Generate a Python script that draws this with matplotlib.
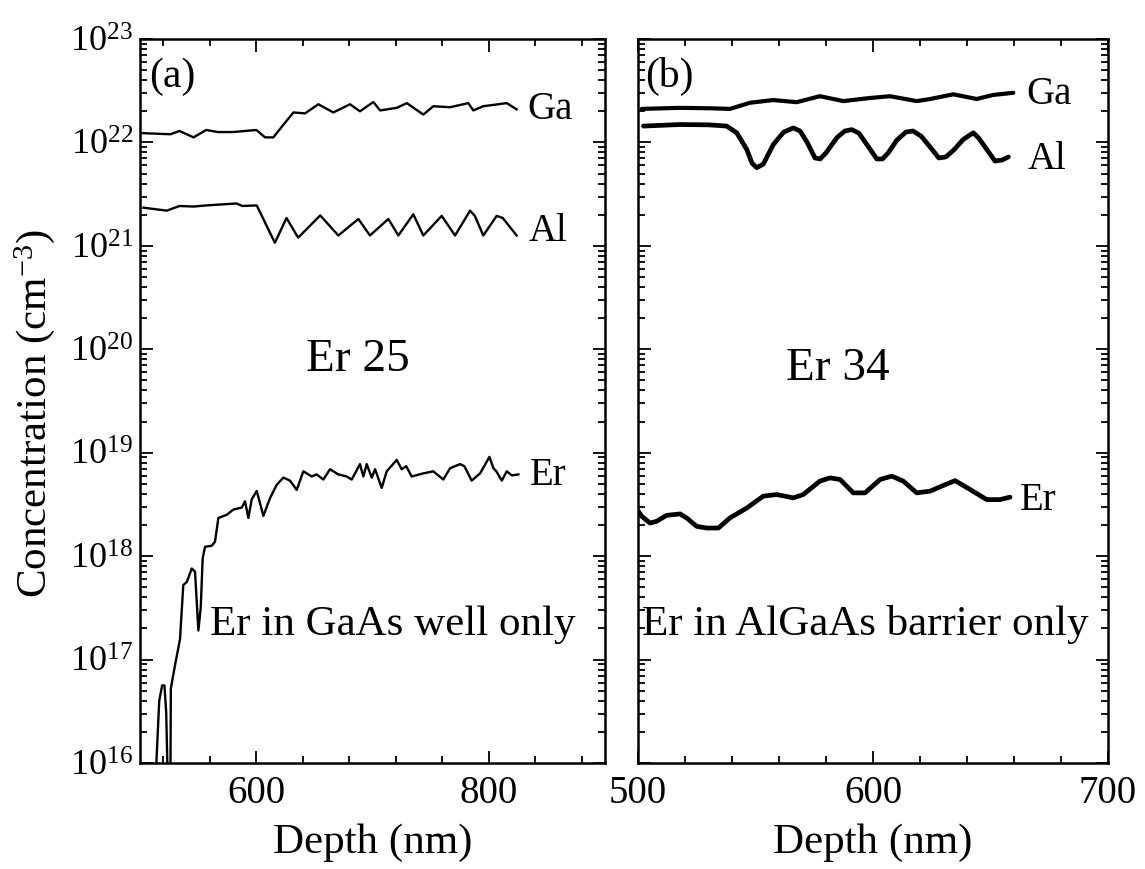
import matplotlib
matplotlib.use("Agg")
import matplotlib.pyplot as plt
from matplotlib.ticker import AutoMinorLocator, FixedLocator, NullFormatter

plt.rcParams['font.family'] = ['Liberation Serif', 'DejaVu Serif']
plt.rcParams['mathtext.fontset'] = 'custom'
plt.rcParams['mathtext.rm'] = 'Liberation Serif'
plt.rcParams['mathtext.it'] = 'Liberation Serif:italic'
plt.rcParams['mathtext.bf'] = 'Liberation Serif:bold'

# ---------------- Panel (a): Er 25 ----------------
a_ga_depth = [502, 526, 534, 546, 557, 567, 580, 600, 607.5, 614.7, 624.7, 632, 642,
              653.4, 666.3, 680.6, 689.2, 700.7, 706.5, 720.8, 729.5, 743.7, 752.3,
              766.7, 782.4, 786.7, 795.3, 815.4, 824]
a_ga_conc = [1.23e22, 1.20e22, 1.29e22, 1.12e22, 1.32e22, 1.26e22, 1.26e22, 1.32e22,
             1.12e22, 1.12e22, 1.55e22, 1.95e22, 1.91e22, 2.34e22, 1.95e22, 2.34e22,
             2.00e22, 2.46e22, 2.04e22, 2.16e22, 2.40e22, 1.86e22, 2.24e22, 2.19e22,
             2.40e22, 2.04e22, 2.24e22, 2.40e22, 2.09e22]

a_al_depth = [503, 523, 534, 546, 557, 583, 588, 600.4, 616, 626, 636, 655, 670.6,
              687.8, 697.8, 713.6, 722.2, 735.1, 743.7, 759.5, 771, 783.9, 788, 795.3,
              806.8, 812, 824]
a_al_conc = [2.34e21, 2.19e21, 2.43e21, 2.40e21, 2.46e21, 2.57e21, 2.43e21, 2.46e21,
             1.07e21, 1.86e21, 1.20e21, 1.97e21, 1.26e21, 1.82e21, 1.26e21, 1.82e21,
             1.26e21, 2.02e21, 1.26e21, 1.95e21, 1.26e21, 2.19e21, 1.95e21, 1.26e21,
             1.95e21, 1.86e21, 1.26e21]

a_er_depth = [512, 516.5, 519, 521, 522.5, 524.5, 526, 526.5, 530, 534.4, 537.2, 540.2,
              544.5, 547.3, 550.2, 552.2, 553.9, 555.9, 561.7, 564.5, 567.4, 574.6,
              580.3, 587.5, 590.3, 593.2, 596.1, 600.4, 606.1, 611.8, 617.6, 623.3, 629,
              634.8, 640.5, 647.7, 652, 657.7, 663.4, 670.6, 677.8, 682.1, 689.2, 692.1,
              695, 699.3, 702.2, 707.9, 712.2, 720.8, 725.1, 729, 733.7, 743.7, 752.3,
              760.9, 766.7, 775.3, 779, 785.3, 792.5, 800.6, 804, 806.5, 811.2, 815.5,
              819.8, 825.5]
a_er_conc = [3.16e15, 3.98e16, 5.62e16, 5.62e16, 3.09e16, 3.16e15, 3.16e15, 5.25e16,
             8.71e16, 1.58e17, 5.25e17, 5.62e17, 7.59e17, 7.08e17, 1.91e17, 3.16e17,
             9.55e17, 1.23e18, 1.26e18, 1.38e18, 2.34e18, 2.51e18, 2.82e18, 2.95e18,
             3.39e18, 2.34e18, 3.55e18, 4.27e18, 2.45e18, 3.63e18, 4.90e18, 5.75e18,
             5.37e18, 4.37e18, 6.61e18, 5.89e18, 6.17e18, 5.50e18, 6.92e18, 6.17e18,
             5.89e18, 5.50e18, 7.76e18, 5.89e18, 7.76e18, 5.75e18, 6.92e18, 4.57e18,
             6.61e18, 8.51e18, 6.92e18, 7.41e18, 5.89e18, 6.31e18, 6.61e18, 5.50e18,
             7.08e18, 7.76e18, 7.41e18, 5.37e18, 6.31e18, 9.12e18, 7.08e18, 6.61e18,
             5.37e18, 6.61e18, 6.03e18, 6.17e18]

# ---------------- Panel (b): Er 34 ----------------
b_ga_depth = [501.6, 517.9, 530.6, 539.1, 547.7, 557.6, 567.5, 577.4, 587.4, 598.7,
              607.2, 618.6, 624.3, 634.2, 644.1, 651.2, 659.7]
b_ga_conc = [2.11e22, 2.16e22, 2.14e22, 2.11e22, 2.42e22, 2.57e22, 2.45e22, 2.80e22,
             2.51e22, 2.69e22, 2.80e22, 2.51e22, 2.63e22, 2.92e22, 2.63e22, 2.88e22,
             3.02e22]

b_al_depth = [502.3, 517.9, 530, 537.7, 542, 546.3, 548.5, 550.5, 553.3, 557.6, 562,
              566.1, 569, 572, 575.3, 577.5, 580, 584.6, 588, 591, 594, 598, 601.6, 604,
              606.5, 610.1, 614, 617, 620.5, 624.5, 628, 631, 634.5, 638.4, 642.7, 645,
              648.5, 651.9, 655, 657.6]
b_al_conc = [1.44e22, 1.49e22, 1.48e22, 1.44e22, 1.24e22, 8.55e21, 6.31e21, 5.70e21,
             6.17e21, 9.55e21, 1.26e22, 1.38e22, 1.29e22, 1.00e22, 7.08e21, 6.92e21,
             7.94e21, 1.11e22, 1.29e22, 1.33e22, 1.23e22, 9.12e21, 6.92e21, 6.92e21,
             7.94e21, 1.05e22, 1.26e22, 1.29e22, 1.15e22, 8.91e21, 7.08e21, 7.24e21,
             8.51e21, 1.07e22, 1.24e22, 1.10e22, 8.51e21, 6.61e21, 6.76e21, 7.24e21]

b_er_depth = [500, 501.6, 505.1, 507.9, 512.2, 517.9, 520.7, 525, 529.2, 534.2, 539.1,
              546.3, 553.3, 559, 566.1, 570.3, 577.4, 581.7, 586, 591.6, 596.6, 603, 608,
              612.9, 618.6, 624.3, 629.2, 634.9, 641.3, 648.4, 654, 658.3]
b_er_conc = [2.75e18, 2.43e18, 2.09e18, 2.17e18, 2.48e18, 2.56e18, 2.34e18, 1.94e18,
             1.87e18, 1.87e18, 2.34e18, 2.92e18, 3.80e18, 3.94e18, 3.66e18, 3.94e18,
             5.31e18, 5.71e18, 5.51e18, 4.09e18, 4.09e18, 5.51e18, 5.94e18, 5.31e18,
             4.09e18, 4.25e18, 4.75e18, 5.37e18, 4.41e18, 3.52e18, 3.52e18, 3.72e18]

x_ticks_a = [600, 800]
x_ticks_b = [500, 600, 700]
y_ticks = [1e16, 1e17, 1e18, 1e19, 1e20, 1e21, 1e22, 1e23]
y_minor = [m * 10.0 ** e for e in range(16, 23) for m in range(2, 10)]

fig = plt.figure(figsize=(11.45, 8.69), dpi=100)
ax1 = fig.add_axes([0.1223, 0.1220, 0.4061, 0.8331])
ax2 = fig.add_axes([0.5572, 0.1220, 0.4105, 0.8331])

ax1.plot(a_ga_depth, a_ga_conc, color='black', lw=1.7, solid_joinstyle='round')
ax1.plot(a_al_depth, a_al_conc, color='black', lw=1.7, solid_joinstyle='round')
ax1.plot(a_er_depth, a_er_conc, color='black', lw=1.7, solid_joinstyle='round')

ax2.plot(b_ga_depth, b_ga_conc, color='black', lw=3.0, solid_joinstyle='round', solid_capstyle='round')
ax2.plot(b_al_depth, b_al_conc, color='black', lw=3.4, solid_joinstyle='round', solid_capstyle='round')
ax2.plot(b_er_depth, b_er_conc, color='black', lw=3.4, solid_joinstyle='round', solid_capstyle='round')

for ax in (ax1, ax2):
    ax.set_yscale('log')
    ax.set_ylim(1e16, 1e23)
    ax.set_yticks(y_ticks)
    ax.yaxis.set_minor_locator(FixedLocator(y_minor))
    ax.yaxis.set_minor_formatter(NullFormatter())
    ax.xaxis.set_minor_locator(AutoMinorLocator(5))
    ax.tick_params(which='both', direction='in', top=True, right=True, width=1.3)
    ax.tick_params(which='major', length=9)
    ax.tick_params(which='minor', length=5)
    ax.tick_params(axis='x', which='major', pad=9, labelsize=28)
    ax.tick_params(axis='y', which='major', pad=5, labelsize=26)
    for s in ax.spines.values():
        s.set_linewidth(1.8)
    ax.set_xlabel('Depth (nm)', fontsize=31, labelpad=8)

ax1.set_xlim(500, 900)
ax1.set_xticks(x_ticks_a)
ax2.set_xlim(500, 700)
ax2.set_xticks(x_ticks_b)
ax2.tick_params(axis='y', which='both', labelleft=False)

ax1.set_ylabel('Concentration (cm$^{-3}$)', fontsize=31)
ax1.yaxis.set_label_coords(-0.178, 0.483)

ax1.text(0.02, 0.948, '(a)', transform=ax1.transAxes, fontsize=30, va='center', ha='left')
ax2.text(0.015, 0.948, '(b)', transform=ax2.transAxes, fontsize=30, va='center', ha='left')

ax1.text(833, 1.67e22, 'Ga', fontsize=28, va='baseline', ha='left')
ax1.text(834, 1.11e21, 'Al', fontsize=28, va='baseline', ha='left')
ax1.text(835.5, 4.9e18, 'Er', fontsize=28, va='baseline', ha='left')
ax1.text(687.5, 7.9e19, 'Er 25', fontsize=34, va='center', ha='center')
ax1.text(560, 1.74e17, 'Er in GaAs well only', fontsize=31, va='baseline', ha='left')

ax2.text(665.4, 2.33e22, 'Ga', fontsize=28, va='baseline', ha='left')
ax2.text(666, 5.5e21, 'Al', fontsize=28, va='baseline', ha='left')
ax2.text(662.6, 2.8e18, 'Er', fontsize=28, va='baseline', ha='left')
ax2.text(585, 6.5e19, 'Er 34', fontsize=34, va='center', ha='center')
ax2.text(501.7, 1.74e17, 'Er in AlGaAs barrier only', fontsize=31, va='baseline', ha='left')

fig.savefig('out.png', dpi=100)
